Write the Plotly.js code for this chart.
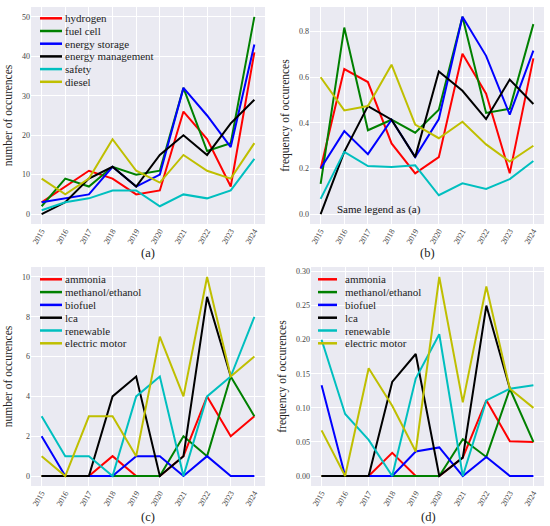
<!DOCTYPE html>
<html><head><meta charset="utf-8">
<script src="https://cdn.plot.ly/plotly-3.0.1.min.js"></script>
<style>html,body{margin:0;padding:0;background:#fff}</style>
</head><body><div id="chart" style="width:550px;height:526px"></div>
<script>
// ---------- data ----------
const years = [2015, 2016, 2017, 2018, 2019, 2020, 2021, 2022, 2023, 2024];
const yearLabels = ['2015','2016','2017','2018','2019','2020','2021','2022','2023','2024'];

const namesTop = ['hydrogen', 'fuel cell', 'energy storage', 'energy management', 'safety', 'diesel'];
const namesBottom = ['ammonia', 'methanol/ethanol', 'biofuel', 'lca', 'renewable', 'electric motor'];

// (a) number of occurences
const hydrogenCount   = [3, 7, 11, 9, 5, 6, 26, 19, 7, 41];
const fuelCellCount   = [2, 9, 7, 12, 10, 11, 32, 16, 18, 50];
const storageCount    = [3, 4, 5, 12, 7, 10, 32, 25, 17, 43];
const managementCount = [0, 3, 9, 12, 7, 15, 20, 15, 23, 29];
const safetyCount     = [1, 3, 4, 6, 6, 2, 5, 4, 6, 14];
const dieselCount     = [9, 5, 9, 19, 11, 8, 15, 11, 9, 18];

// (b) frequency of occurences
const hydrogenFreq   = [0.200, 0.636, 0.579, 0.310, 0.179, 0.250, 0.703, 0.528, 0.179, 0.683];
const fuelCellFreq   = [0.133, 0.818, 0.368, 0.414, 0.357, 0.458, 0.865, 0.444, 0.462, 0.833];
const storageFreq    = [0.200, 0.364, 0.263, 0.414, 0.250, 0.417, 0.865, 0.694, 0.436, 0.717];
const managementFreq = [0.000, 0.273, 0.474, 0.414, 0.250, 0.625, 0.541, 0.417, 0.590, 0.483];
const safetyFreq     = [0.067, 0.273, 0.211, 0.207, 0.214, 0.083, 0.135, 0.111, 0.154, 0.233];
const dieselFreq     = [0.600, 0.455, 0.474, 0.655, 0.393, 0.333, 0.405, 0.306, 0.231, 0.300];

// (c) number of occurences
const ammoniaCount   = [0, 0, 0, 1, 0, 0, 1, 4, 2, 3];
const methanolCount  = [0, 0, 0, 0, 0, 0, 2, 1, 5, 3];
const biofuelCount   = [2, 0, 0, 0, 1, 1, 0, 1, 0, 0];
const lcaCount       = [0, 0, 0, 4, 5, 0, 1, 9, 5, null];
const renewableCount = [3, 1, 1, 0, 4, 5, 0, 4, 5, 8];
const motorCount     = [1, 0, 3, 3, 1, 7, 4, 10, 5, 6];

// (d) frequency of occurences
const ammoniaFreq   = [0, 0, 0, 0.034, 0, 0, 0.027, 0.111, 0.051, 0.050];
const methanolFreq  = [0, 0, 0, 0, 0, 0, 0.054, 0.028, 0.128, 0.050];
const biofuelFreq   = [0.133, 0, 0, 0, 0.036, 0.042, 0, 0.028, 0, 0];
const lcaFreq       = [0, 0, 0, 0.138, 0.179, 0, 0.027, 0.250, 0.128, null];
const renewableFreq = [0.200, 0.091, 0.053, 0, 0.143, 0.208, 0, 0.111, 0.128, 0.133];
const motorFreq     = [0.067, 0, 0.158, 0.103, 0.036, 0.292, 0.108, 0.278, 0.128, 0.100];

const yTicksA = [0, 10, 20, 30, 40, 50];
const yTicksB = [0, 0.2, 0.4, 0.6, 0.8];
const yTicksC = [0, 2, 4, 6, 8, 10];
const yTicksD = [0, 0.05, 0.10, 0.15, 0.20, 0.25, 0.30];

// ---------- style ----------
const colors = ['#FF0000', '#008000', '#0000FF', '#000000', '#00BFBF', '#BFBF00'];
const FONT = 'Liberation Serif, Times New Roman, serif';
const W = 550, H = 526;
const px = v => v / W;
const py = v => 1 - v / H;

const panels = [
  {series: [hydrogenCount, fuelCellCount, storageCount, managementCount, safetyCount, dieselCount], names: namesTop, ax: ''},
  {series: [hydrogenFreq, fuelCellFreq, storageFreq, managementFreq, safetyFreq, dieselFreq], names: namesTop, ax: '2'},
  {series: [ammoniaCount, methanolCount, biofuelCount, lcaCount, renewableCount, motorCount], names: namesBottom, ax: '3'},
  {series: [ammoniaFreq, methanolFreq, biofuelFreq, lcaFreq, renewableFreq, motorFreq], names: namesBottom, ax: '4'}
];

const traces = [];
panels.forEach(p => {
  p.series.forEach((s, i) => {
    traces.push({
      type: 'scatter', mode: 'lines', x: years, y: s, name: p.names[i],
      xaxis: 'x' + p.ax, yaxis: 'y' + p.ax, showlegend: false,
      line: {color: colors[i], width: 2}, hoverinfo: 'x+y+name'
    });
  });
});

function xAxis(domain, anchor) {
  return {
    domain: domain, anchor: anchor, range: [2014.55, 2024.45],
    tickmode: 'array', tickvals: years, ticktext: yearLabels, tickangle: -60,
    showgrid: true, gridcolor: '#FFFFFF', gridwidth: 1, zeroline: false, showline: false,
    ticks: '', tickfont: {family: FONT, size: 8, color: '#444'}
  };
}
function yAxis(domain, anchor, range, ticks, fmt, title) {
  return {
    domain: domain, anchor: anchor, range: range,
    tickmode: 'array', tickvals: ticks, tickformat: fmt,
    showgrid: true, gridcolor: '#FFFFFF', gridwidth: 1, zeroline: false, showline: false,
    ticks: '', tickfont: {family: FONT, size: 8, color: '#444'},
    title: {text: title, font: {family: FONT, size: 11.5, color: '#222'}, standoff: 6}
  };
}

const dTopY = [py(224), py(7)];
const dBotY = [py(486), py(267)];
const dLeftX = [px(31), px(265)];
const dRightX = [px(310), px(544)];

const annotations = [];
const shapes = [];

// panel labels
[['(a)', 148, 253], ['(b)', 427, 253], ['(c)', 148, 517], ['(d)', 428, 517]].forEach(l => {
  annotations.push({text: l[0], xref: 'paper', yref: 'paper', x: px(l[1]), y: py(l[2]),
    showarrow: false, xanchor: 'center', yanchor: 'middle', font: {family: FONT, size: 12.5, color: '#222'}});
});
annotations.push({text: 'Same legend as (a)', xref: 'paper', yref: 'paper', x: px(379), y: py(209),
  showarrow: false, xanchor: 'center', yanchor: 'middle', font: {family: FONT, size: 11, color: '#111'}});

// legends (drawn as key lines + labels)
function legend(names, lx0, lx1, tx, y0, dy) {
  names.forEach((n, i) => {
    const y = y0 + i * dy;
    shapes.push({type: 'line', xref: 'paper', yref: 'paper', x0: px(lx0), x1: px(lx1), y0: py(y), y1: py(y),
      line: {color: colors[i], width: 2.5}});
    annotations.push({text: n, xref: 'paper', yref: 'paper', x: px(tx), y: py(y), showarrow: false,
      xanchor: 'left', yanchor: 'middle', font: {family: FONT, size: 11, color: '#222'}});
  });
}
legend(namesTop, 40, 62, 63, 18.3, 12.7);
legend(namesBottom, 40, 62, 63, 279.3, 12.8);
legend(namesBottom, 318, 337, 343, 279.3, 12.8);

const layout = {
  width: W, height: H, margin: {l: 0, r: 0, t: 0, b: 0},
  paper_bgcolor: '#FFFFFF', plot_bgcolor: '#EAEAF2',
  font: {family: FONT},
  showlegend: false,
  xaxis: xAxis(dLeftX, 'y'),
  yaxis: yAxis(dTopY, 'x', [-2.5, 52.5], yTicksA, 'd', 'number of occurences'),
  xaxis2: xAxis(dRightX, 'y2'),
  yaxis2: yAxis(dTopY, 'x2', [-0.043, 0.908], yTicksB, '.1f', 'frequency of occurences'),
  xaxis3: xAxis(dLeftX, 'y3'),
  yaxis3: yAxis(dBotY, 'x3', [-0.5, 10.5], yTicksC, 'd', 'number of occurences'),
  xaxis4: xAxis([px(311), px(544)], 'y4'),
  yaxis4: yAxis(dBotY, 'x4', [-0.0146, 0.3066], yTicksD, '.2f', 'frequency of occurences'),
  annotations: annotations,
  shapes: shapes
};

Plotly.newPlot('chart', traces, layout, {displayModeBar: false, staticPlot: true});
</script></body></html>
